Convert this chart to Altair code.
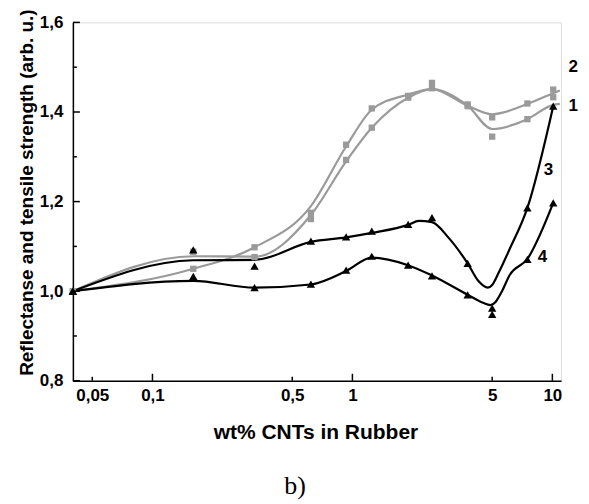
import altair as alt
import pandas as pd

# ---- data ----
# marker x positions (wt% CNTs)
x_pts = [0.04, 0.16, 0.324, 0.62, 0.93, 1.25, 1.9, 2.5, 3.77, 5.0, 7.5, 10.1]

# measured points (markers)
m1 = [1.0, 1.088, 1.076, 1.161, 1.293, 1.365, 1.432, 1.453, 1.413, 1.345, 1.384, 1.433]
m2 = [1.0, 1.05, 1.098, 1.175, 1.327, 1.408, 1.436, 1.465, 1.417, 1.388, 1.419, 1.45]
m3 = [1.0, 1.092, 1.056, 1.112, 1.121, 1.134, 1.149, 1.164, 1.062, 0.962, 1.186, 1.413]
m4 = [1.0, 1.033, 1.008, 1.016, 1.047, 1.078, 1.058, 1.034, 0.992, 0.948, 1.071, 1.197]

# smoothed curves as drawn in the picture
cx_gray = [0.04, 0.16, 0.324, 0.62, 0.93, 1.25, 1.9, 2.5, 3.77, 5.0, 7.5, 10.1, 10.9]
c1 = [1.0, 1.078, 1.077, 1.17, 1.29, 1.365, 1.432, 1.451, 1.414, 1.362, 1.384, 1.416, 1.418]
c2 = [1.0, 1.05, 1.098, 1.19, 1.323, 1.405, 1.439, 1.451, 1.414, 1.395, 1.418, 1.442, 1.448]
cx3 = [0.04, 0.16, 0.324, 0.62, 0.93, 1.25, 1.9, 2.15, 2.5, 3.03, 3.77, 4.28, 4.75, 5.0, 5.37, 6.1, 7.5, 10.1]
c3 = [1.0, 1.069, 1.07, 1.11, 1.12, 1.13, 1.148, 1.157, 1.154, 1.119, 1.062, 1.022, 1.008, 1.014, 1.04, 1.093, 1.186, 1.413]
cx4 = [0.04, 0.16, 0.324, 0.62, 0.93, 1.25, 1.9, 2.5, 3.77, 4.5, 4.9, 5.2, 5.6, 6.1, 7.5, 10.1]
c4 = [1.0, 1.023, 1.008, 1.015, 1.045, 1.075, 1.058, 1.035, 0.992, 0.974, 0.969, 0.976, 1.0, 1.035, 1.072, 1.197]

# curve number labels
lab_text = ["1", "2", "3", "4"]
lab_x = [12.7, 12.7, 9.55, 8.92]
lab_y = [1.414, 1.5015, 1.271, 1.077]

# axis ticks
x_ticks = [0.05, 0.1, 0.5, 1, 5, 10]
x_ticks_long = [0.1, 1, 10]
x_ticks_short = [0.05, 0.5, 5]
y_ticks = [0.8, 1.0, 1.2, 1.4, 1.6]
y_ticks_minor = [0.9, 1.1, 1.3, 1.5]

X_DOMAIN = [0.04, 11.05]
Y_DOMAIN = [0.8, 1.6]
GRAY = "#9a9a9a"
FONT = "Liberation Sans"

# ---- tables ----
gray_curves = pd.concat([
    pd.DataFrame({"x": cx_gray, "y": c1, "s": "1"}),
    pd.DataFrame({"x": cx_gray, "y": c2, "s": "2"}),
])
black_curves = pd.concat([
    pd.DataFrame({"x": cx3, "y": c3, "s": "3"}),
    pd.DataFrame({"x": cx4, "y": c4, "s": "4"}),
])
gray_pts = pd.concat([
    pd.DataFrame({"x": x_pts, "y": m1, "s": "1"}),
    pd.DataFrame({"x": x_pts, "y": m2, "s": "2"}),
])
black_pts = pd.concat([
    pd.DataFrame({"x": x_pts, "y": m3, "s": "3"}),
    pd.DataFrame({"x": x_pts, "y": m4, "s": "4"}),
])
labels = pd.DataFrame({"t": lab_text, "x": lab_x, "y": lab_y})

xscale = alt.Scale(type="log", domain=X_DOMAIN, nice=False)
yscale = alt.Scale(domain=Y_DOMAIN, nice=False, zero=False)

xaxis = alt.Axis(
    values=x_ticks,
    labelExpr="replace(toString(datum.value), '.', ',')",
    ticks=False, tickSize=0, grid=False,
    domainColor="black", domainWidth=1.5,
    labelFont=FONT, labelFontWeight="bold", labelFontSize=17, labelColor="black",
    labelPadding=7, labelFlush=False, labelOverlap=False,
    title="wt% CNTs in Rubber",
    titleFont=FONT, titleFontWeight="bold", titleFontSize=21, titleColor="black",
    titleX=243, titleY=58, titleAlign="center", titleBaseline="alphabetic",
)
yaxis = alt.Axis(
    values=y_ticks,
    labelExpr="replace(format(datum.value, '.1f'), '.', ',')",
    ticks=False, tickSize=0, grid=False,
    domainColor="black", domainWidth=1.5,
    labelFont=FONT, labelFontWeight="bold", labelFontSize=17, labelColor="black",
    labelPadding=10, labelFlush=False, labelOverlap=False,
    title="Reflectanse and tensile strength  (arb. u.)",
    titleFont=FONT, titleFontWeight="bold", titleFontSize=19, titleColor="black",
    titleX=-40, titleY=170, titleAlign="center", titleBaseline="alphabetic",
)

base_x = alt.X("x:Q", scale=xscale, axis=xaxis)
base_y = alt.Y("y:Q", scale=yscale, axis=yaxis)

gray_lines = alt.Chart(gray_curves).mark_line(
    color=GRAY, strokeWidth=2.2, interpolate="monotone"
).encode(x=base_x, y=base_y, detail="s:N")

black_lines = alt.Chart(black_curves).mark_line(
    color="black", strokeWidth=2.2, interpolate="monotone"
).encode(x=alt.X("x:Q", scale=xscale), y=alt.Y("y:Q", scale=yscale), detail="s:N")

gray_marks = alt.Chart(gray_pts).mark_point(
    shape="square", filled=True, color=GRAY, size=40, opacity=1
).encode(x=alt.X("x:Q", scale=xscale), y=alt.Y("y:Q", scale=yscale))

black_marks = alt.Chart(black_pts).mark_point(
    shape="triangle-up", filled=True, color="black", size=70, opacity=1
).encode(x=alt.X("x:Q", scale=xscale), y=alt.Y("y:Q", scale=yscale))

text = alt.Chart(labels).mark_text(
    font=FONT, fontWeight="bold", fontSize=17, color="black"
).encode(x=alt.X("x:Q", scale=xscale), y=alt.Y("y:Q", scale=yscale), text="t:N")

# inward ticks
xt_long = alt.Chart(pd.DataFrame({"v": x_ticks_long})).mark_tick(
    orient="vertical", size=7, yOffset=-3.5, thickness=1.5, color="black", opacity=1
).encode(x=alt.X("v:Q", scale=xscale), y=alt.datum(0.8, scale=yscale))
xt_short = alt.Chart(pd.DataFrame({"v": x_ticks_short})).mark_tick(
    orient="vertical", size=4, yOffset=-2, thickness=1.5, color="black", opacity=1
).encode(x=alt.X("v:Q", scale=xscale), y=alt.datum(0.8, scale=yscale))
yt_major = alt.Chart(pd.DataFrame({"v": y_ticks})).mark_tick(
    orient="horizontal", size=7, xOffset=3.5, thickness=1.5, color="black", opacity=1
).encode(y=alt.Y("v:Q", scale=yscale), x=alt.datum(0.04, scale=xscale))
yt_minor = alt.Chart(pd.DataFrame({"v": y_ticks_minor})).mark_tick(
    orient="horizontal", size=4, xOffset=2, thickness=1.5, color="black", opacity=1
).encode(y=alt.Y("v:Q", scale=yscale), x=alt.datum(0.04, scale=xscale))

chart = alt.layer(
    gray_lines, black_lines, gray_marks, black_marks, text,
    xt_long, xt_short, yt_major, yt_minor,
).properties(
    width=489, height=359,
    autosize=alt.AutoSizeParams(type="none"),
    padding={"left": 65, "top": 14, "right": 20, "bottom": 120},
    title=alt.TitleParams(
        "b)", orient="bottom", anchor="middle", font="Liberation Serif",
        fontSize=26, fontWeight="normal", color="black", dx=-22, offset=30,
        baseline="top",
    ),
).configure_view(stroke=None).configure(background="white")

chart.save("out.html", embed_options={"renderer": "svg", "actions": False})
